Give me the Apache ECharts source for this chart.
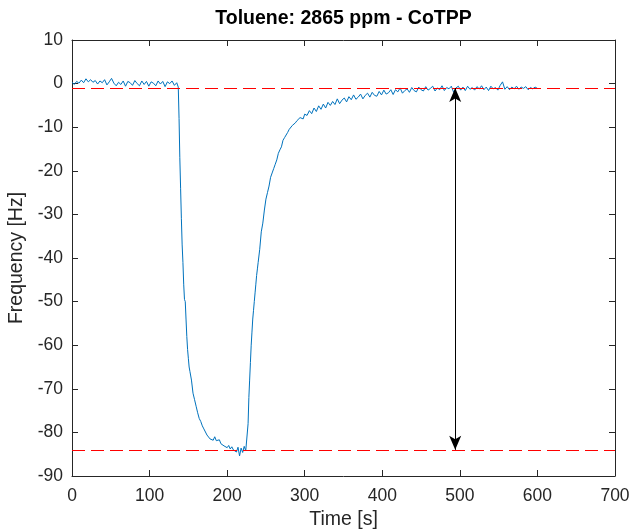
<!DOCTYPE html>
<html>
<head>
<meta charset="utf-8">
<script src="https://cdn.jsdelivr.net/npm/echarts@6/dist/echarts.min.js"></script>
<style>
  html, body { margin: 0; padding: 0; background: #fff; }
  #chart { width: 631px; height: 530px; }
</style>
</head>
<body>
<div id="chart"></div>
<script>
// Time [s] of each sample
const time = [
  0, 3, 6, 9, 12, 15, 18, 21, 24, 27,
  30, 33, 36, 39, 42, 45, 48, 51, 54, 57,
  60, 63, 66, 69, 72, 75, 78, 81, 84, 87,
  90, 93, 96, 99, 102, 105, 108, 111, 114, 117,
  120, 123, 126, 129, 132, 135, 137, 138, 139, 140,
  141, 142, 143, 144, 145, 146, 147, 148, 149, 150,
  151, 152, 154, 156, 158, 160, 162, 164, 166, 168,
  170, 172, 174, 176, 178, 180, 182, 184, 186, 188,
  190, 192, 194, 196, 198, 200, 202, 204, 206, 208,
  210, 212, 214, 216, 218, 220, 222, 224, 226, 227,
  228, 229, 230, 231, 232, 233, 234, 235, 236, 237,
  238, 239, 240, 242, 244, 246, 248, 250, 252, 254,
  256, 258, 260, 262, 264, 266, 268, 270, 272, 274,
  276, 278, 280, 282, 284, 286, 288, 290, 292, 294,
  296, 298, 300, 303, 306, 309, 312, 315, 318, 321,
  324, 327, 330, 333, 336, 339, 342, 345, 348, 351,
  354, 357, 360, 363, 366, 369, 372, 375, 378, 381,
  384, 387, 390, 393, 396, 399, 402, 405, 408, 411,
  414, 417, 420, 423, 426, 429, 432, 435, 438, 441,
  444, 447, 450, 453, 456, 459, 462, 465, 468, 471,
  474, 477, 480, 483, 486, 489, 492, 495, 498, 501,
  504, 507, 510, 513, 516, 519, 522, 525, 528, 531,
  534, 537, 540, 543, 546, 549, 552, 555, 558, 561,
  564, 567, 570, 573, 576, 579, 582, 585, 588, 591,
  594, 597, 600
];

// Frequency shift [Hz]
const freq = [
  0.3, -0.2, 0.5, 0.1, 0.8, 0.2, 1.1, 0.4, 0.9, 0.3,
  0.7, -0.1, 0.6, 0.2, 0.9, -0.3, 0.4, 1.2, 0.1, -0.5,
  0.3, -0.2, 0.6, -0.6, 0.5, 0.2, -0.4, 0.7, 0.0, -0.5,
  0.6, -0.2, 0.5, -0.6, 0.4, 0.1, -0.5, 0.6, -0.1, 0.5,
  -0.7, 0.4, 0.0, 0.6, -0.4, 0.2, -0.8, -8, -17, -24,
  -31, -37, -41, -46, -49.5, -50, -54, -58, -61, -63,
  -65, -66, -68, -71, -72.5, -74, -75.5, -76.8, -77.5, -78.5,
  -79.2, -79.5, -80.6, -80.4, -81.5, -81.2, -81.8, -81.0, -81.9, -82.3,
  -81.7, -82.6, -82.2, -83.1, -82.7, -83.5, -83.0, -83.8, -83.3, -84.0,
  -83.6, -84.5, -83.4, -85.4, -83.6, -84.6, -83.2, -84.2, -84.4, -78,
  -72, -68, -64, -60, -57, -54, -52, -50, -48, -46,
  -44, -42.5, -41, -38, -34, -32, -29, -26.5, -25, -23.5,
  -21.5, -20.5, -19.5, -18.5, -17.5, -16, -15.2, -14.5, -13, -12.4,
  -12, -11.2, -10.5, -10.4, -9.6, -9.3, -9.0, -8.5, -8.6, -7.8,
  -7.6, -8.1, -7.0, -7.3, -6.2, -6.9, -5.6, -6.4, -5.1, -5.9,
  -4.7, -5.6, -4.3, -5.0, -4.1, -4.8, -3.5, -4.6, -3.8, -3.3,
  -4.2, -3.0, -3.7, -2.6, -3.6, -3.1, -2.4, -3.5, -2.7, -2.2,
  -3.1, -2.0, -2.7, -2.9, -1.8, -2.6, -1.5, -2.4, -2.1, -1.4,
  -2.5, -1.4, -1.9, -1.0, -2.2, -1.6, -1.2, -2.0, -0.9, -1.6,
  -1.9, -0.8, -1.4, -1.7, -0.7, -1.5, -1.1, -0.6, -1.7, -1.0,
  -1.4, -0.5, -1.6, -0.9, -1.2, -0.6, -2.0, -1.0, -0.6, -1.5,
  -0.8, -1.6, -0.6, -1.3, -0.9, -1.5, -0.7, -1.2, -0.5, -1.4,
  -0.8, -1.6, -0.6, -1.2, -0.9, -1.5, -0.4, 0.4, -1.3, -0.7,
  -1.4, -0.8, -1.2, -0.6, -1.3, -0.8, -1.1, -0.7, -1.4, -0.9,
  -1.2, -0.8, -1.1
];

// dashed reference levels (baseline and saturation)
const levels = [-1, -84];
// double arrow showing the total shift
const arrowTime = 494;
const arrowEnds = [-84, -1];

const xTicks = { min: 0, max: 700, interval: 100 };
const yTicks = { min: -90, max: 10, interval: 10 };

const FONT = "'Liberation Sans', Arial, sans-serif";
const INK = "#262626";
const RED_DASH = { color: "#ff0000", width: 1, type: [13, 6], opacity: 1 };

const chart = echarts.init(document.getElementById("chart"));

const points = [];
for (let i = 0; i < Math.min(time.length, freq.length); i++) {
  points.push([time[i], freq[i]]);
}

// shared axis look, MATLAB-ish box with inward ticks
function axisBase(extra) {
  return Object.assign({
    type: "value",
    axisLine: { show: true, onZero: false, lineStyle: { color: INK, width: 1 } },
    axisTick: { show: true, inside: true, length: 6, lineStyle: { color: INK, width: 1 } },
    splitLine: { show: false },
  }, extra);
}

chart.setOption({
  animation: false,
  backgroundColor: "#fff",
  title: {
    text: "Toluene: 2865 ppm - CoTPP",
    left: 343.5,
    top: 9,
    padding: 0,
    textAlign: "center",
    textStyle: { fontFamily: FONT, fontSize: 19.5, fontWeight: "bold", color: "#000" },
  },
  // fixed plot box; keep v6 from shrinking it to fit the labels
  grid: { left: 72, right: 16, top: 40, bottom: 54, containLabel: false, outerBoundsMode: "none" },
  xAxis: [
    axisBase(Object.assign({}, xTicks, {
      position: "bottom",
      name: "Time [s]",
      nameLocation: "middle",
      nameGap: 31,
      nameTextStyle: { fontFamily: FONT, fontSize: 19.5, color: INK },
      axisLabel: { fontFamily: FONT, fontSize: 17.5, color: INK, margin: 11 },
    })),
    axisBase(Object.assign({}, xTicks, {
      position: "top",
      axisLabel: { show: false },
    })),
  ],
  yAxis: [
    axisBase(Object.assign({}, yTicks, {
      position: "left",
      name: "Frequency [Hz]",
      nameLocation: "middle",
      nameGap: 37,
      nameTextStyle: { fontFamily: FONT, fontSize: 19.5, color: INK },
      axisLabel: { fontFamily: FONT, fontSize: 17.5, color: INK, margin: 9 },
    })),
    axisBase(Object.assign({}, yTicks, {
      position: "right",
      axisLabel: { show: false },
    })),
  ],
  series: [
    {
      name: "Frequency",
      type: "line",
      data: points,
      showSymbol: false,
      lineStyle: { color: "#0072BD", width: 1 },
      emphasis: { disabled: true },
      z: 2,
    },
    {
      name: "Levels",
      type: "line",
      data: [],
      z: 3,
      markLine: {
        silent: true,
        symbol: "none",
        label: { show: false },
        emphasis: { disabled: true },
        lineStyle: RED_DASH,
        data: levels.map((v) => ({ yAxis: v, lineStyle: RED_DASH })),
      },
    },
    {
      name: "Shift",
      type: "line",
      data: [],
      z: 4,
      markLine: {
        silent: true,
        symbol: ["arrow", "arrow"],
        symbolSize: [9, 14],
        label: { show: false },
        emphasis: { disabled: true },
        lineStyle: { color: "#000", width: 1, type: "solid" },
        itemStyle: { color: "#000" },
        data: [[
          { coord: [arrowTime, arrowEnds[0]] },
          { coord: [arrowTime, arrowEnds[1]] },
        ]],
      },
    },
  ],
});
</script>
</body>
</html>
